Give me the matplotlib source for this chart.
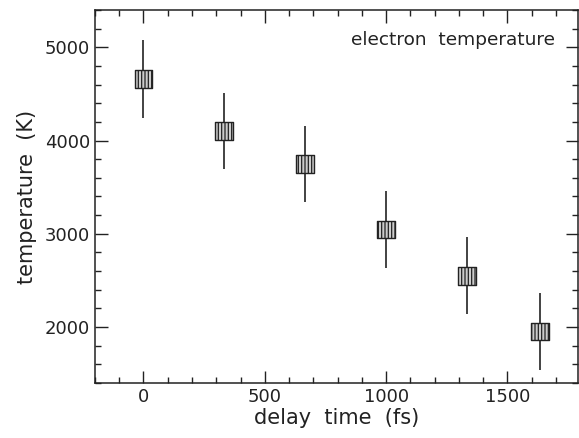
import matplotlib.pyplot as plt
from matplotlib.ticker import MultipleLocator

delay = [0, 333, 667, 1000, 1333, 1633]
temp = [4660, 4100, 3745, 3045, 2550, 1950]
err = [415, 410, 410, 410, 410, 410]

plt.rcParams['font.family'] = 'DejaVu Sans'
plt.rcParams['hatch.color'] = '#333333'
plt.rcParams['hatch.linewidth'] = 0.9

fig = plt.figure(figsize=(5.79, 4.38), dpi=100)
ax = fig.add_axes([0.164, 0.126, 0.834, 0.851])

ax.errorbar(delay, temp, yerr=err, fmt='none', ecolor='#222222', elinewidth=1.2, capsize=0, zorder=2)
for x, y in zip(delay, temp):
    ax.scatter(x, y, marker='s', s=165, facecolor='#cccccc', edgecolor='#222222',
               linewidth=1.0, hatch='|||||', zorder=3)

ax.set_xlim(-200, 1790)
ax.set_ylim(1400, 5400)
ax.xaxis.set_major_locator(MultipleLocator(500))
ax.xaxis.set_minor_locator(MultipleLocator(100))
ax.yaxis.set_major_locator(MultipleLocator(1000))
ax.yaxis.set_minor_locator(MultipleLocator(200))
ax.tick_params(which='both', direction='in', top=True, right=True, labelsize=13, colors='#222222')
ax.tick_params(which='major', length=9, width=1)
ax.tick_params(which='minor', length=4, width=1)
for s in ax.spines.values():
    s.set_linewidth(1.1)
    s.set_color('#222222')

ax.set_xlabel('delay  time  (fs)', fontsize=15, color='#222222', labelpad=2)
ax.set_ylabel('temperature  (K)', fontsize=15, color='#222222', labelpad=6)
ax.text(0.952, 0.92, 'electron  temperature', transform=ax.transAxes, ha='right', va='center',
        fontsize=13.3, color='#222222')

fig.savefig('out.png', dpi=100)
